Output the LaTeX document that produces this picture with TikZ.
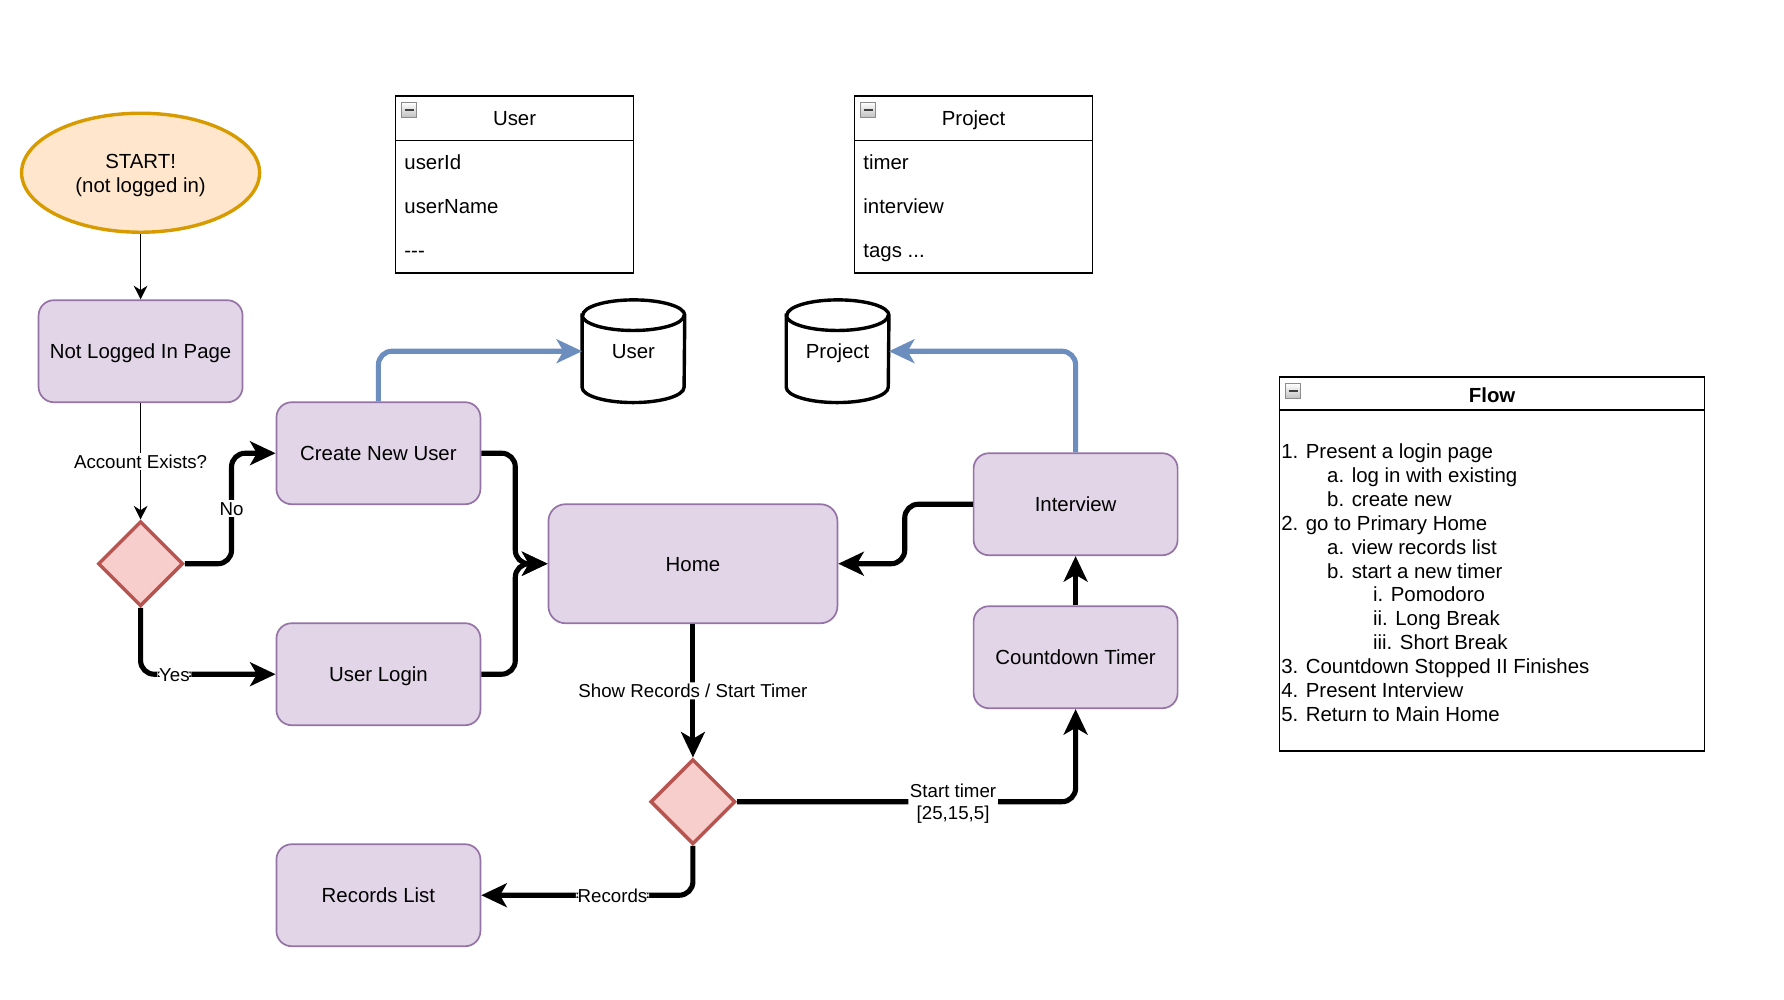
\documentclass[tikz,border=0pt]{standalone}
\usepackage{fontspec}
\setmainfont{Liberation Sans}
\usetikzlibrary{arrows.meta,shapes.geometric,calc}

\definecolor{boxfill}{HTML}{E1D5E7}
\definecolor{boxline}{HTML}{9673A6}
\definecolor{startfill}{HTML}{FFE6CC}
\definecolor{startline}{HTML}{D79B00}
\definecolor{decfill}{HTML}{F8CECC}
\definecolor{decline}{HTML}{B85450}
\definecolor{dbblue}{HTML}{6C8EBF}

\begin{document}
\begin{tikzpicture}[x=1pt,y=-1pt,
  every node/.style={font=\fontsize{12pt}{14pt}\selectfont},
  oneline/.style={text height=8.7pt, text depth=0pt},
  screen/.style={draw=boxline, fill=boxfill, line width=1pt, rounded corners=9pt,
    minimum width=120pt, minimum height=60pt, inner sep=2pt, oneline},
  startnode/.style={ellipse, draw=startline, fill=startfill, line width=2pt,
    minimum width=140pt, minimum height=70pt, inner sep=0pt},
  decision/.style={diamond, draw=decline, fill=decfill, line width=2pt,
    minimum width=50pt, minimum height=50pt, inner sep=0pt, aspect=1},
  dbnode/.style={minimum width=60pt, minimum height=60pt, inner sep=0pt},
  cylline/.style={draw=black, fill=white, line width=2pt},
  tabhead/.style={draw=black, fill=white, line width=1pt, minimum width=140pt,
    minimum height=26pt, inner sep=0pt, oneline},
  tabbody/.style={draw=black, fill=white, line width=1pt, minimum width=140pt,
    minimum height=78pt, inner sep=0pt},
  tabrow/.style={anchor=west, inner sep=0pt, oneline},
  minusbox/.style={draw=black!45, top color=white, bottom color=black!25,
    line width=0.6pt, minimum width=9pt, minimum height=9pt, inner sep=0pt},
  minusbar/.style={line width=1.4pt, black!75},
  thinflow/.style={draw=black, line width=1pt, -{Stealth[length=8pt,width=8pt,inset=2.5pt]}},
  thickflow/.style={draw=black, line width=3pt, rounded corners=8pt,
    -{Stealth[length=15pt,width=14pt,inset=4pt]}},
  dbflow/.style={thickflow, draw=dbblue},
  edgelabel/.style={font=\fontsize{11pt}{13pt}\selectfont, fill=white, inner sep=1pt, align=center},
  shortlabel/.style={edgelabel, text height=8pt, text depth=0pt}
]
\fill[white] (0,0) rectangle (1049.4,588.2);
\useasboundingbox (0,0) rectangle (1049.4,588.2);

% flow chart nodes
\node[startnode] (start) at (82.7,101.6) {};
\node[align=center, font=\fontsize{12pt}{14.6pt}\selectfont, inner sep=0pt] (starttext)
  at ([yshift=-1.6pt]start.center) {START!\\(not logged in)};
\node[screen] (notlogged) at (82.7,206.6) {Not Logged In Page};
\node[decision] (dec1) at (82.7,331.6) {};
\node[screen] (create) at (222.6,266.6) {Create New User};
\node[screen] (login) at (222.6,396.6) {User Login};
\node[screen, minimum width=170pt, minimum height=70pt, rounded corners=10pt] (home) at (407.6,331.6) {Home};
\node[screen] (interview) at (632.7,296.6) {Interview};
\node[screen] (countdown) at (632.7,386.6) {Countdown Timer};
\node[decision] (dec2) at (407.6,471.6) {};
\node[screen] (records) at (222.6,526.6) {Records List};

% data stores
\foreach \db/\cx/\txt in {dbuser/372.6/User, dbproj/492.7/Project}{
  \node[dbnode] (\db) at (\cx,206.6) {};
  \draw[cylline] ([yshift=-9pt]\db.north west) -- ([yshift=9pt]\db.south west)
    arc[start angle=180, end angle=360, x radius=30pt, y radius=9pt]
    -- ([yshift=-9pt]\db.north east)
    arc[start angle=0, end angle=180, x radius=30pt, y radius=9pt] -- cycle;
  \draw[line width=2pt] ([yshift=-9pt]\db.north west)
    arc[start angle=180, end angle=360, x radius=30pt, y radius=9pt];
  \node[oneline] (\db text) at (\db.center) {\txt};
}

% entity tables
\node[tabbody] (userbody) at (302.7,121.6) {};
\node[tabhead] (userhead) at (302.7,69.6) {User};
\node[minusbox] (userminus) at ($(userhead.north west)+(8.5,8.5)$) {};
\draw[minusbar] ([xshift=-2.7pt]userminus.center) -- ([xshift=2.7pt]userminus.center);
\node[tabrow] (userid) at ($(userbody.north west)+(5.5,13)$) {userId};
\node[tabrow] (username) at ($(userbody.north west)+(5.5,39)$) {userName};
\node[tabrow] (usermore) at ($(userbody.north west)+(5.5,65)$) {-{}-{}-};

\node[tabbody] (projbody) at (572.7,121.6) {};
\node[tabhead] (projhead) at (572.7,69.6) {Project};
\node[minusbox] (projminus) at ($(projhead.north west)+(8.5,8.5)$) {};
\draw[minusbar] ([xshift=-2.7pt]projminus.center) -- ([xshift=2.7pt]projminus.center);
\node[tabrow] (projtimer) at ($(projbody.north west)+(5.5,13)$) {timer};
\node[tabrow] (projinterview) at ($(projbody.north west)+(5.5,39)$) {interview};
\node[tabrow] (projtags) at ($(projbody.north west)+(5.5,65)$) {tags ...};

% flow description
\node[draw=black, line width=1pt, fill=white, minimum width=250pt, minimum height=220pt, inner sep=0pt] (flowbox) at (877.7,331.6) {};
\draw[line width=1pt] ([yshift=-20pt]flowbox.north west) -- ([yshift=-20pt]flowbox.north east);
\node[minusbox] (flowminus) at ($(flowbox.north west)+(8.5,9)$) {};
\draw[minusbar] ([xshift=-2.7pt]flowminus.center) -- ([xshift=2.7pt]flowminus.center);
\node[font=\fontsize{12pt}{14pt}\selectfont\bfseries, oneline] (flowtitle) at ($(flowbox.north)+(0,11.5)$) {Flow};
\foreach \ind/\txt [count=\i] in {
  0/1. Present a login page,
  1/a. log in with existing,
  1/b. create new,
  0/2. go to Primary Home,
  1/a. view records list,
  1/b. start a new timer,
  2/i. Pomodoro,
  2/ii. Long Break,
  2/iii. Short Break,
  0/3. Countdown Stopped II Finishes,
  0/4. Present Interview,
  0/5. Return to Main Home}{
  \node[anchor=base west, inner sep=0pt] (flowline\i) at ($(flowbox.north west)+(1.3+27*\ind,34.6+14.05*\i)$) {\txt};
}

% connectors
\draw[thinflow] (start.south) -- (notlogged.north);
\draw[thinflow] (notlogged.south) -- node[shortlabel] {Account Exists?} (dec1.north);
\draw[thickflow] (dec1.east) -- ++(27.5,0) |- node[shortlabel, pos=0.25] {No} (create.west);
\draw[thickflow] (dec1.south) |- node[shortlabel, pos=0.625] {Yes} (login.west);
\draw[thickflow] (create.east) -- ++(20,0) |- (home.west);
\draw[thickflow] (login.east) -- ++(20,0) |- (home.west);
\draw[dbflow] (create.north) |- (dbuser.west);
\draw[dbflow] (interview.north) |- (dbproj.east);
\draw[thickflow] (interview.west) -- ++(-40,0) |- (home.east);
\draw[thickflow] (countdown.north) -- (interview.south);
\draw[thickflow] (home.south) -- node[shortlabel] {Show Records / Start Timer} (dec2.north);
\draw[thickflow] (dec2.east) -| node[edgelabel, pos=0.319, yshift=-1pt] {Start timer\\{[25,15,5]}} (countdown.south);
\draw[thickflow] (dec2.south) |- node[shortlabel, pos=0.69] {Records} (records.east);
\end{tikzpicture}
\end{document}
